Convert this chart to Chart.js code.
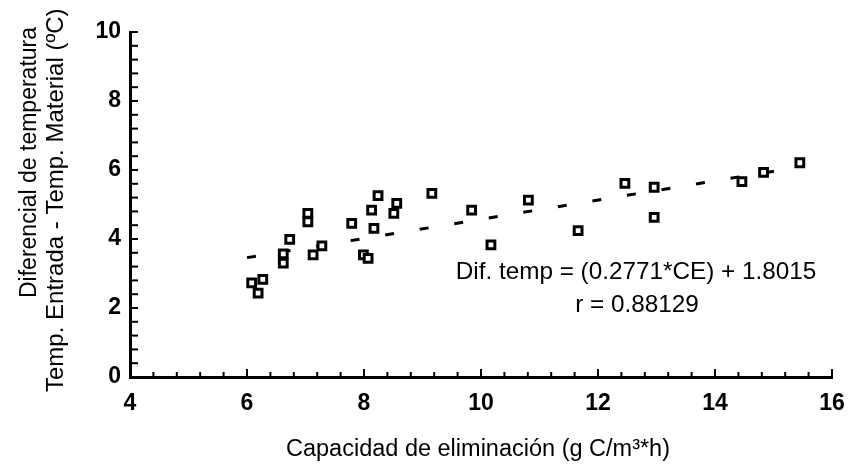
<!DOCTYPE html>
<html><head><meta charset="utf-8">
<script src="https://cdn.jsdelivr.net/npm/chart.js@4/dist/chart.umd.min.js"></script>
<style>html,body{margin:0;padding:0;background:#fff}#wrap{width:850px;height:471px}</style>
</head><body><div id="wrap"><canvas id="c" width="850" height="471"></canvas></div>
<script>
// ---- data ----
const xTickLabels = [4, 6, 8, 10, 12, 14, 16];
const yTickLabels = [0, 2, 4, 6, 8, 10];
const capacidad = [6.08, 6.27, 6.19, 6.73, 6.62, 6.62, 7.04, 7.04, 7.13, 7.28, 7.79, 7.99, 8.07, 8.13, 8.17, 8.24, 8.56, 8.51, 9.16, 9.84, 10.17, 10.81, 11.66, 12.46, 12.96, 12.96, 14.46, 14.83, 15.45];
const difTemp   = [2.73, 2.83, 2.43, 3.99, 3.57, 3.30, 4.74, 4.50, 3.54, 3.80, 4.45, 3.54, 3.44, 4.84, 4.31, 5.26, 5.03, 4.74, 5.32, 4.84, 3.83, 5.13, 4.24, 5.61, 5.50, 4.63, 5.66, 5.93, 6.21];
const regresionX = [6.0, 15.1];
const regresionY = [3.46, 5.99];
const yTitleLines = ['Diferencial de temperatura', 'Temp. Entrada - Temp. Material (ºC)'];
const xTitle = 'Capacidad de eliminación (g C/m³*h)';
const ecuacion = ['Dif. temp = (0.2771*CE) + 1.8015', 'r = 0.88129'];

const FONT = '"Liberation Sans", Arial, sans-serif';

const puntos = capacidad.map((x, i) => ({ x: x, y: difTemp[i] }));
const recta = regresionX.map((x, i) => ({ x: x, y: regresionY[i] }));

const decor = {
  id: 'decor',
  afterDraw(chart) {
    const ctx = chart.ctx;
    const xs = chart.scales.x, ys = chart.scales.y;
    const ca = chart.chartArea;
    ctx.save();
    ctx.strokeStyle = '#000';
    ctx.lineWidth = 2;
    const xStep = (xTickLabels[1] - xTickLabels[0]) / 5;
    const nX = Math.round((xs.max - xs.min) / xStep);
    for (let i = 0; i <= nX; i++) {
      const px = xs.getPixelForValue(xs.min + i * xStep);
      const len = (i % 5 === 0) ? 8 : 5;
      ctx.beginPath(); ctx.moveTo(px, ca.bottom); ctx.lineTo(px, ca.bottom - len); ctx.stroke();
    }
    const yStep = (yTickLabels[1] - yTickLabels[0]) / 5;
    const nY = Math.round((ys.max - ys.min) / yStep);
    for (let i = 0; i <= nY; i++) {
      const py = ys.getPixelForValue(ys.min + i * yStep);
      ctx.beginPath(); ctx.moveTo(ca.left, py); ctx.lineTo(ca.left + 8, py); ctx.stroke();
    }
    ctx.fillStyle = '#000';
    ctx.font = '24.3px ' + FONT;
    ctx.textAlign = 'center';
    ctx.textBaseline = 'middle';
    ctx.fillText(ecuacion[0], 636, 272);
    ctx.fillText(ecuacion[1], 637, 305);
    ctx.font = '23.5px ' + FONT;
    ctx.fillText(xTitle, 478, 450);
    ctx.textAlign = 'left';
    ctx.font = '23px ' + FONT;
    ctx.save();
    ctx.translate(30, 298); ctx.rotate(-Math.PI / 2);
    ctx.fillText(yTitleLines[0], 0, 0);
    ctx.restore();
    ctx.font = '24px ' + FONT;
    ctx.save();
    ctx.translate(56, 392); ctx.rotate(-Math.PI / 2);
    ctx.fillText(yTitleLines[1], 0, 0);
    ctx.restore();
    ctx.restore();
  }
};

new Chart(document.getElementById('c'), {
  type: 'scatter',
  data: {
    datasets: [
      {
        label: 'regresion',
        data: recta,
        showLine: true,
        borderColor: '#000',
        borderWidth: 3,
        borderDash: [9, 26],
        pointRadius: 0,
        fill: false,
        order: 1
      },
      {
        label: 'datos',
        data: puntos,
        pointStyle: 'rect',
        pointRadius: 5.5,
        borderWidth: 3,
        borderColor: '#000',
        backgroundColor: '#fff',
        order: 0
      }
    ]
  },
  options: {
    responsive: false,
    animation: false,
    layout: { padding: { top: 32, right: 18, left: 0, bottom: 0 } },
    plugins: { legend: { display: false }, tooltip: { enabled: false } },
    scales: {
      x: {
        type: 'linear', min: 4, max: 16,
        afterBuildTicks: s => { s.ticks = xTickLabels.map(v => ({ value: v })); },
        afterFit: s => { s.height = 94; s.paddingLeft = 0; s.paddingRight = 0; },
        grid: { display: false, drawTicks: false },
        border: { display: true, color: '#000', width: 3 },
        ticks: { padding: 13, color: '#000', font: { family: FONT, size: 23, weight: 'bold' }, maxRotation: 0 }
      },
      y: {
        type: 'linear', min: 0, max: 10,
        afterBuildTicks: s => { s.ticks = yTickLabels.map(v => ({ value: v })); },
        afterFit: s => { s.width = 130; s.paddingTop = 0; s.paddingBottom = 0; },
        grid: { display: false, drawTicks: false },
        border: { display: true, color: '#000', width: 3 },
        ticks: { padding: 9, color: '#000', font: { family: FONT, size: 23, weight: 'bold' } }
      }
    }
  },
  plugins: [decor]
});
</script>
</body></html>
